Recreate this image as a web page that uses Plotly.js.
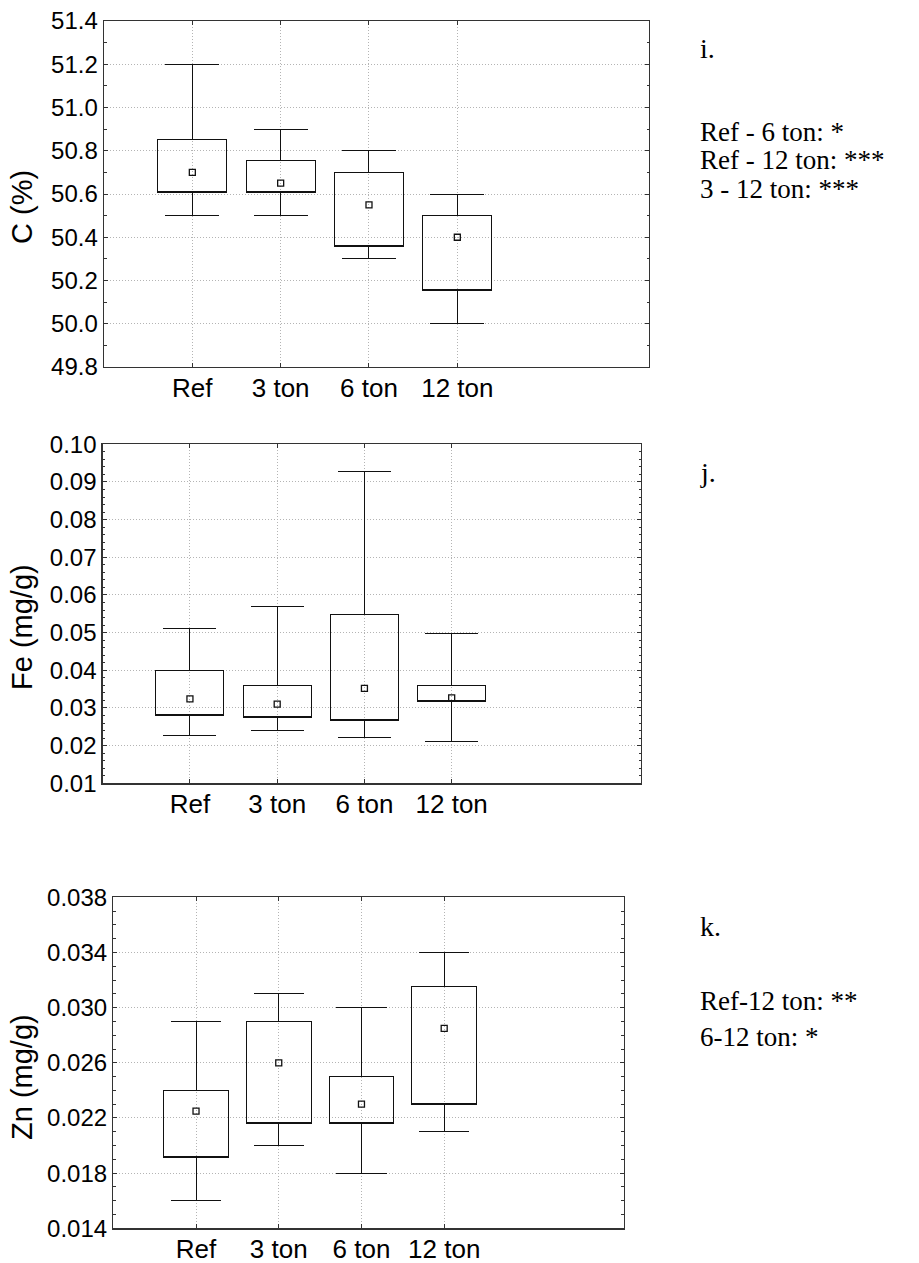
<!DOCTYPE html>
<html><head><meta charset="utf-8">
<script src="https://cdn.plot.ly/plotly-3.0.1.min.js"></script>
<style>html,body{margin:0;padding:0;background:#fff}
.boxlayer path{shape-rendering:crispEdges}</style>
</head><body><div id="chart" style="width:919px;height:1263px"></div>
<script>
const categories = ['Ref', '3 ton', '6 ton', '12 ton'];

// Panel i: C (%)
const cMin    = [50.50, 50.50, 50.30, 50.00];
const cQ1     = [50.605, 50.605, 50.355, 50.155];
const cMedian = [50.70, 50.65, 50.55, 50.40];
const cQ3     = [50.85, 50.755, 50.70, 50.50];
const cMax    = [51.20, 50.90, 50.80, 50.60];

// Panel j: Fe (mg/g)
const feMin    = [0.0228, 0.0239, 0.0221, 0.0211];
const feQ1     = [0.0281, 0.0274, 0.0267, 0.0317];
const feMedian = [0.0324, 0.0310, 0.0352, 0.0327];
const feQ3     = [0.0399, 0.0360, 0.0549, 0.0360];
const feMax    = [0.0510, 0.0570, 0.0928, 0.0499];

// Panel k: Zn (mg/g)
const znMin    = [0.0160, 0.0200, 0.0180, 0.0210];
const znQ1     = [0.0191, 0.0216, 0.0216, 0.0230];
const znMedian = [0.0225, 0.0260, 0.0230, 0.0285];
const znQ3     = [0.0240, 0.0290, 0.0250, 0.0315];
const znMax    = [0.0290, 0.0310, 0.0300, 0.0340];

const yTitles = ['C (%)', 'Fe (mg/g)', 'Zn (mg/g)'];
const panelLabels = ['i.', 'j.', 'k.'];
const sigNotes = [
  ['Ref - 6 ton: *', 'Ref - 12 ton: ***', '3 - 12 ton: ***'],
  [],
  ['Ref-12 ton: **', '6-12 ton: *']
];

const W = 919, H = 1263;
const px = v => v / W;
const py = v => 1 - v / H;

const panels = [
  {min: cMin, q1: cQ1, med: cMedian, q3: cQ3, max: cMax,
   box: [104, 21, 649, 367], range: [49.8, 51.4], dtick: 0.2, minor: 0.1, fmt: '.1f',
   titleY: 207, labelY: 48, notesY: [132, 160.5, 189]},
  {min: feMin, q1: feQ1, med: feMedian, q3: feQ3, max: feMax,
   box: [102.7, 444.3, 641, 783.3], range: [0.01, 0.10], dtick: 0.01, minor: 0.002, fmt: '.2f',
   titleY: 627, labelY: 472, notesY: []},
  {min: znMin, q1: znQ1, med: znMedian, q3: znQ3, max: znMax,
   box: [113.3, 897.3, 623.7, 1228.3], range: [0.014, 0.038], dtick: 0.004, minor: 0.001, fmt: '.3f',
   titleY: 1077, labelY: 926, notesY: [1001, 1037]}
];

const lineCol = '#111';
const axisCol = '#333';
const gridCol = '#b4b4b4';
const sans = 'Liberation Sans, Arial, sans-serif';
const serif = 'Liberation Serif, Times New Roman, serif';
const data = [];
const layout = {
  width: W, height: H, margin: {l: 0, r: 0, t: 0, b: 0},
  paper_bgcolor: '#fff', plot_bgcolor: '#fff', showlegend: false,
  font: {family: sans, color: '#000'},
  annotations: []
};

panels.forEach((p, i) => {
  const xa = i === 0 ? 'x' : 'x' + (i + 1);
  const ya = i === 0 ? 'y' : 'y' + (i + 1);
  data.push({
    type: 'box', x: categories, xaxis: xa, yaxis: ya,
    lowerfence: p.min, q1: p.q1, median: p.q1, q3: p.q3, upperfence: p.max,
    width: 0.78, whiskerwidth: 0.78, boxpoints: false,
    line: {color: lineCol, width: 1}, fillcolor: 'rgba(255,255,255,0)',
    hoverinfo: 'skip'
  });
  data.push({
    type: 'scatter', mode: 'markers', x: categories, y: p.med, xaxis: xa, yaxis: ya,
    marker: {symbol: 'square-open', size: 6, color: lineCol, line: {width: 1.3, color: lineCol}},
    hoverinfo: 'skip'
  });
  const [l, t, r, b] = p.box;
  layout[i === 0 ? 'xaxis' : 'xaxis' + (i + 1)] = {
    domain: [px(l), px(r)], anchor: ya, type: 'category',
    categoryorder: 'array', categoryarray: categories,
    range: [-1, 5.17], showline: true, linecolor: axisCol, linewidth: 1.4, mirror: 'ticks',
    ticks: 'inside', ticklen: 4, tickcolor: axisCol, tickwidth: 1,
    showgrid: true, gridcolor: gridCol, griddash: '1px,2px', gridwidth: 1,
    tickfont: {size: 26, family: sans, color: '#000'}, ticklabelstandoff: -3,
    zeroline: false, fixedrange: true
  };
  layout[i === 0 ? 'yaxis' : 'yaxis' + (i + 1)] = {
    domain: [py(b), py(t)], anchor: xa, range: p.range, tick0: p.range[0], dtick: p.dtick,
    tickformat: p.fmt, showline: true, linecolor: axisCol, linewidth: 1.4, mirror: 'ticks',
    ticks: 'inside', ticklen: 4, tickcolor: axisCol, tickwidth: 1,
    minor: {dtick: p.minor, tick0: p.range[0], ticks: 'inside', ticklen: 2.5, tickcolor: axisCol, tickwidth: 1, showgrid: false},
    showgrid: true, gridcolor: gridCol, griddash: '1px,2px', gridwidth: 1,
    tickfont: {size: 24, family: sans, color: '#000'},
    zeroline: false, fixedrange: true
  };
  layout.annotations.push({
    xref: 'paper', yref: 'paper', x: px(22), y: py(p.titleY), xanchor: 'center', yanchor: 'middle',
    text: yTitles[i], textangle: -90, showarrow: false,
    font: {size: 29, family: sans, color: '#000'}
  });
  layout.annotations.push({
    xref: 'paper', yref: 'paper', x: px(698), y: py(p.labelY), xanchor: 'left', yanchor: 'middle',
    text: panelLabels[i], showarrow: false,
    font: {size: 28, family: serif, color: '#000'}
  });
  sigNotes[i].forEach((s, k) => {
    layout.annotations.push({
      xref: 'paper', yref: 'paper', x: px(698), y: py(p.notesY[k]), xanchor: 'left', yanchor: 'middle',
      text: s, showarrow: false,
      font: {size: 27, family: serif, color: '#000'}
    });
  });
});

Plotly.newPlot('chart', data, layout, {staticPlot: true, displayModeBar: false});
</script>
</body></html>
